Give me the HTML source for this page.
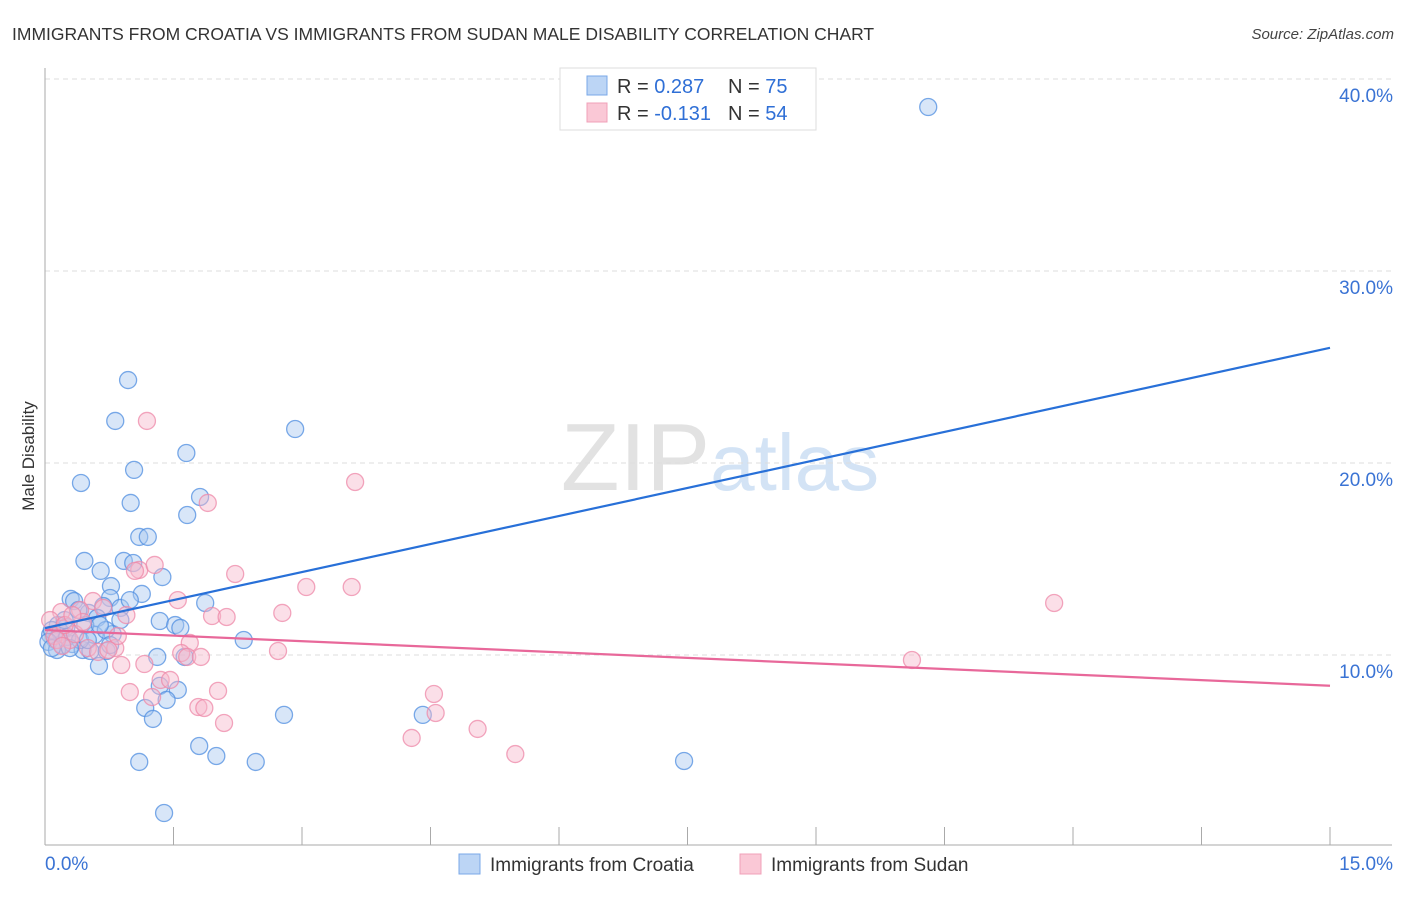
<!DOCTYPE html>
<html><head><meta charset="utf-8"><style>
body{margin:0;background:#fff;font-family:"Liberation Sans",sans-serif}
svg text{font-family:"Liberation Sans",sans-serif}
</style></head><body>
<svg id="chart" width="1406" height="892" viewBox="0 0 1406 892">
<text x="12" y="40" font-size="17.5" fill="#333">IMMIGRANTS FROM CROATIA VS IMMIGRANTS FROM SUDAN MALE DISABILITY CORRELATION CHART</text>
<text x="1394" y="39" font-size="15" fill="#444" text-anchor="end" font-style="italic">Source: ZipAtlas.com</text>
<text x="720" y="490" font-size="96" text-anchor="middle" fill="#e2e2e2" font-family="Liberation Serif">ZIP<tspan fill="#d3e3f5" font-family="Liberation Sans" font-size="80">atlas</tspan></text>
<text transform="translate(34,456) rotate(-90)" font-size="17" fill="#333" text-anchor="middle">Male Disability</text>
<g id="grid"></g><g id="axes"></g><g id="marks"></g>
<g>
<rect x="560" y="68" width="256" height="62" fill="#fff" stroke="#ddd"/>
<rect x="587" y="76" width="20" height="19" fill="#bcd5f5" stroke="#7aa8e8"/>
<rect x="587" y="103" width="20" height="19" fill="#fac8d6" stroke="#f0a0b8"/>
<text x="617" y="93" font-size="20" fill="#333">R = <tspan fill="#2f6fd6">0.287</tspan><tspan x="728">N = </tspan><tspan fill="#2f6fd6">75</tspan></text>
<text x="617" y="120" font-size="20" fill="#333">R = <tspan fill="#2f6fd6">-0.131</tspan><tspan x="728">N = </tspan><tspan fill="#2f6fd6">54</tspan></text>
</g>
<g>
<rect x="459" y="854" width="21" height="20" fill="#bcd5f5" stroke="#7aa8e8"/>
<text x="490" y="871" font-size="19" fill="#333">Immigrants from Croatia</text>
<rect x="740" y="854" width="21" height="20" fill="#fac8d6" stroke="#f0a0b8"/>
<text x="771" y="871" font-size="19" fill="#333">Immigrants from Sudan</text>
</g>
</svg>
<script>
const yTicks=[10,20,30,40];
const yTickLabels=["10.0%","20.0%","30.0%","40.0%"];
const xTickLabels=["0.0%","15.0%"];
const croatiaX=[10.31,0.97,0.82,2.92,1.65,1.04,0.42,1.00,1.81,1.66,1.10,1.20,0.46,0.92,1.03,0.65,1.37,0.77,1.13,0.30,0.34,0.76,1.87,0.88,0.68,0.51,0.61,1.34,1.52,1.58,0.15,0.25,0.79,2.32,0.06,0.12,0.20,0.32,0.44,0.53,0.72,1.31,1.63,0.63,1.34,1.55,1.17,1.42,1.26,2.79,4.41,1.80,2.00,1.10,2.46,7.46,1.39,0.08,0.18,0.04,0.26,0.41,0.58,0.47,0.71,0.88,0.39,0.64,0.14,0.29,0.23,0.50,0.76,0.99,0.08];
const croatiaY=[38.54,24.32,22.19,21.77,20.52,19.64,18.96,17.92,18.23,17.29,16.15,16.15,14.90,14.90,14.79,14.38,14.06,13.59,13.18,12.92,12.81,12.97,12.71,12.45,12.55,12.19,11.93,11.77,11.56,11.41,11.56,11.46,11.09,10.78,11.04,10.78,10.52,10.57,10.26,10.21,10.21,9.90,9.90,9.43,8.39,8.18,7.24,7.66,6.67,6.88,6.88,5.26,4.74,4.43,4.43,4.48,1.77,11.30,11.20,10.68,10.94,10.78,11.04,11.56,11.30,11.82,12.34,11.56,10.26,10.36,11.82,10.78,10.52,12.86,10.36];
const sudanX=[1.19,3.62,1.90,2.22,3.05,3.58,11.78,1.10,1.28,1.05,1.55,0.56,0.95,1.95,2.12,2.77,0.19,0.41,0.68,1.69,0.06,0.11,0.29,0.82,1.59,1.66,1.82,2.72,10.12,0.89,1.16,0.99,1.35,1.46,1.25,2.02,1.79,1.86,2.09,4.54,4.56,4.28,5.05,5.49,0.14,0.20,0.35,0.50,0.62,0.74,0.23,0.44,0.85,0.32];
const sudanY=[22.19,19.01,17.92,14.22,13.54,13.54,12.71,14.43,14.69,14.38,12.86,12.81,12.08,12.03,11.98,12.19,12.24,12.34,12.45,10.63,11.82,10.99,10.78,10.36,10.10,9.90,9.90,10.21,9.74,9.48,9.53,8.07,8.70,8.70,7.81,8.13,7.29,7.24,6.46,7.97,6.98,5.68,6.15,4.84,10.78,10.47,11.09,10.36,10.16,10.26,11.56,11.72,10.99,12.08];
const croatiaTrend=[11.4,26.0];
const sudanTrend=[11.3,8.4];
const trendX=[0,15];
const NS="http://www.w3.org/2000/svg";
const xs=v=>45+v*(1285/15);
const ys=v=>847-v*19.2;
function mk(t,a,p){const e=document.createElementNS(NS,t);for(const k in a)e.setAttribute(k,a[k]);p.appendChild(e);return e;}
const grid=document.getElementById('grid'),axes=document.getElementById('axes'),marks=document.getElementById('marks');
yTicks.forEach((t,i)=>{
 const l=mk('line',{x1:45,x2:1392,y1:ys(t),y2:ys(t),stroke:'#ddd','stroke-dasharray':'5,4'},grid);
 
 
 const tx=mk('text',{x:1393,y:ys(t)+23,'font-size':19,fill:'#3a73d4','text-anchor':'end'},axes);
 tx.textContent=yTickLabels[i];
 
 
});
const ya=mk('line',{x1:45,x2:45,y1:68,y2:845,stroke:'#aaa'},axes);


const xa=mk('line',{x1:45,x2:1392,y1:845,y2:845,stroke:'#aaa'},axes);


for(let i=1;i<=10;i++){const t=mk('line',{x1:xs(i*1.5),x2:xs(i*1.5),y1:827,y2:845,stroke:'#aaa'},axes);
 
 }
[[0,'start',45],[15,'end',1393]].forEach((d,i)=>{const t=mk('text',{x:d[2],y:870,'font-size':19,fill:'#3a73d4','text-anchor':d[1]},axes);t.textContent=xTickLabels[i];
 
 });
function pts(X,Y,fill,stroke,name){X.forEach((x,i)=>{const c=mk('circle',{cx:xs(x),cy:ys(Y[i]),r:8.5,fill:fill,'fill-opacity':0.45,stroke:stroke,'stroke-opacity':0.75,'stroke-width':1.3},marks);
 
 });}
pts(croatiaX,croatiaY,'#a9c8f0','#4f8ee0','croatia-point');
pts(sudanX,sudanY,'#f7b8cc','#ee88a8','sudan-point');
const l1=mk('line',{x1:xs(trendX[0]),y1:ys(croatiaTrend[0]),x2:xs(trendX[1]),y2:ys(croatiaTrend[1]),stroke:'#2870d8','stroke-width':2.2},marks);


const l2=mk('line',{x1:xs(trendX[0]),y1:ys(sudanTrend[0]),x2:xs(trendX[1]),y2:ys(sudanTrend[1]),stroke:'#e8689a','stroke-width':2.2},marks);


</script>
</body></html>
